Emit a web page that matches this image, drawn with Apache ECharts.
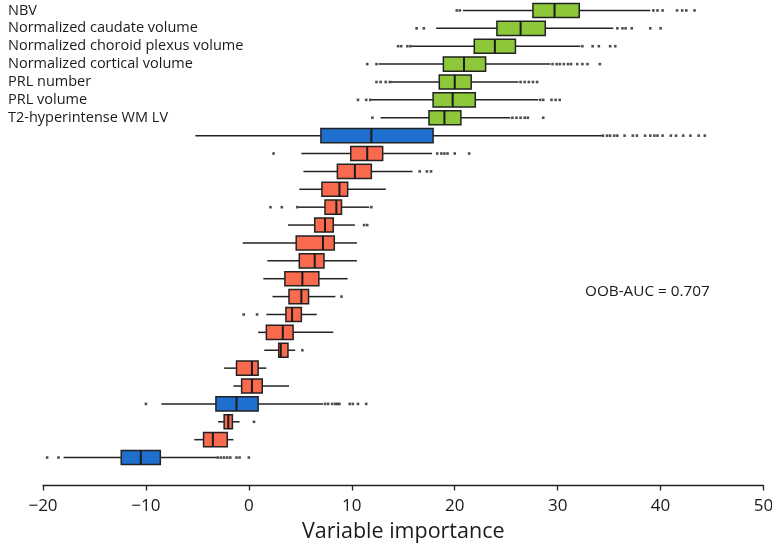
<!DOCTYPE html>
<html>
<head>
<meta charset="utf-8">
<script src="https://cdn.jsdelivr.net/npm/echarts@6/dist/echarts.min.js"></script>
<style>html,body{margin:0;padding:0;background:#fff;}#c{width:772px;height:546px;}</style>
</head>
<body>
<div id="c"></div>
<script>
// Row labels (only the first seven rows are labelled in the original)
var categories = ['NBV','Normalized caudate volume','Normalized choroid plexus volume','Normalized cortical volume','PRL number','PRL volume','T2-hyperintense WM LV',
  '','','','','','','','','','','','','','','','','','',''];
var groups = ['g','g','g','g','g','g','g','b','r','r','r','r','r','r','r','r','r','r','r','r','r','r','b','r','r','b'];
var whiskerLow  = [20.8,18.2,15.8,12.6,13.8,11.9,12.8,-5.2,5.1,5.3,4.9,4.8,3.8,-0.6,1.8,1.4,2.3,1.7,0.9,1.5,-2.4,-1.5,-8.5,-3.0,-5.3,-18.0];
var q1          = [27.6,24.1,21.9,18.9,18.5,17.9,17.5,7.0,9.9,8.6,7.1,7.4,6.4,4.6,4.9,3.5,3.9,3.6,1.7,2.9,-1.2,-0.7,-3.2,-2.4,-4.4,-12.4];
var median      = [29.7,26.4,23.9,20.9,20.0,19.8,19.0,11.9,11.5,10.3,8.8,8.5,7.4,7.2,6.4,5.2,5.1,4.2,3.3,3.1,0.3,0.3,-1.2,-2.0,-3.5,-10.5];
var q3          = [32.1,28.8,25.9,23.0,21.6,22.0,20.6,17.9,13.0,11.9,9.6,9.0,8.2,8.3,7.3,6.8,5.8,5.1,4.3,3.8,0.9,1.3,0.9,-1.6,-2.1,-8.6];
var whiskerHigh = [39.0,35.4,32.2,29.3,26.2,28.1,25.4,34.3,17.8,15.9,13.3,11.7,10.3,10.5,10.5,9.6,8.4,6.6,8.2,4.5,1.7,3.9,7.2,-0.9,-1.5,-3.1];
var outliers = [
  [20.2,20.5,39.3,39.7,40.2,41.6,42.1,42.5,43.3],
  [16.3,17.0,35.8,36.3,36.6,37.2,39.0,40.0],
  [14.5,14.8,15.4,15.7,32.4,33.4,34.0,35.1,35.6],
  [11.5,12.4,29.5,29.9,30.2,30.6,31.0,31.3,31.9,32.4,32.9,34.1],
  [12.4,12.8,13.3,13.7,26.4,26.8,27.2,27.6,28.0],
  [10.6,11.4,11.8,28.3,28.6,29.4,29.8,30.2],
  [12.0,25.6,26.0,26.4,26.8,27.1,28.6],
  [34.4,34.8,35.1,35.5,35.8,36.5,37.3,37.7,38.5,39.0,39.4,39.7,40.2,41.0,41.5,42.2,42.9,43.7,44.3],
  [2.4,18.3,18.7,19.0,19.3,20.0,21.4],
  [16.6,17.3,17.7],
  [],
  [2.1,3.2,4.7,11.9],
  [11.2,11.5],
  [],
  [],
  [],
  [9.0],
  [-0.5,0.8],
  [],
  [5.2],
  [],
  [],
  [-10.0,7.4,7.7,8.1,8.4,8.6,8.8,9.8,10.1,10.6,11.4],
  [0.5],
  [],
  [-20.5,-20.1,-19.6,-18.5,-3.0,-2.7,-2.4,-2.1,-1.8,-1.2,-0.9,0.0]
];
var xTicks = [-20,-10,0,10,20,30,40,50];
var aucText = 'OOB-AUC = 0.707';

var colorMap = {g:'#8cc83a', b:'#1f6fcf', r:'#fa6a4e'};

var boxData = categories.map(function(c,i){
  return [i, whiskerLow[i], q1[i], median[i], q3[i], whiskerHigh[i]];
});
var outData = [];
outliers.forEach(function(arr,i){ arr.forEach(function(v){ outData.push([v,i]); }); });

var chart = echarts.init(document.getElementById('c'), null, {renderer:'canvas'});
chart.setOption({
  animation:false,
  backgroundColor:'#fff',
  grid:{left:43, right:8.5, top:1.5, bottom:79.5, containLabel:false, outerBoundsMode:'none'},
  xAxis:{type:'value', min:-20, max:50, interval:10, offset:19,
    axisLine:{show:true, lineStyle:{color:'#222', width:1.3}},
    axisTick:{show:true, length:5, lineStyle:{color:'#222', width:1.3}},
    splitLine:{show:false},
    axisLabel:{color:'#1a1a1a', fontSize:17, fontFamily:'Open Sans', margin:12,
      formatter:function(v){ return xTicks.indexOf(v)>=0 ? String(v).replace('-','\u2212') : ''; }},
    name:'Variable importance', nameLocation:'middle', nameGap:35,
    nameTextStyle:{color:'#1a1a1a', fontSize:21.5, fontFamily:'Open Sans'}
  },
  yAxis:{type:'category', data:categories, inverse:true,
    axisLine:{show:false}, axisTick:{show:false}, splitLine:{show:false},
    axisLabel:{show:true, align:'left', margin:35, color:'#1a1a1a', fontSize:14.5, fontFamily:'Open Sans', interval:0, padding:[4,0,0,0]}
  },
  graphic:[{type:'text', left:585, top:284, style:{text:aucText, fill:'#1a1a1a', font:'15.3px "Open Sans"'}}],
  series:[
    {type:'custom', data:boxData, encode:{x:[1,2,3,4,5], y:0},
      renderItem:function(params, api){
        var i = api.value(0);
        var pL = api.coord([api.value(1), i]);
        var p1 = api.coord([api.value(2), i]);
        var pm = api.coord([api.value(3), i]);
        var p3 = api.coord([api.value(4), i]);
        var pH = api.coord([api.value(5), i]);
        var h = api.size([0,1])[1]*0.79;
        var y = pL[1];
        var col = colorMap[groups[i]];
        var ls = {stroke:'#222', lineWidth:1.5};
        return {type:'group', children:[
          {type:'line', shape:{x1:pL[0], y1:y, x2:p1[0], y2:y}, style:ls},
          {type:'line', shape:{x1:p3[0], y1:y, x2:pH[0], y2:y}, style:ls},
          {type:'rect', shape:{x:p1[0], y:y-h/2, width:p3[0]-p1[0], height:h}, style:{fill:col, stroke:'#222', lineWidth:1.5}},
          {type:'line', shape:{x1:pm[0], y1:y-h/2, x2:pm[0], y2:y+h/2}, style:{stroke:'#1a1a1a', lineWidth:2}}
        ]};
      }
    },
    {type:'scatter', data:outData, symbol:'rect', symbolSize:2.6, itemStyle:{color:'#222'}}
  ]
});
</script>
</body>
</html>
